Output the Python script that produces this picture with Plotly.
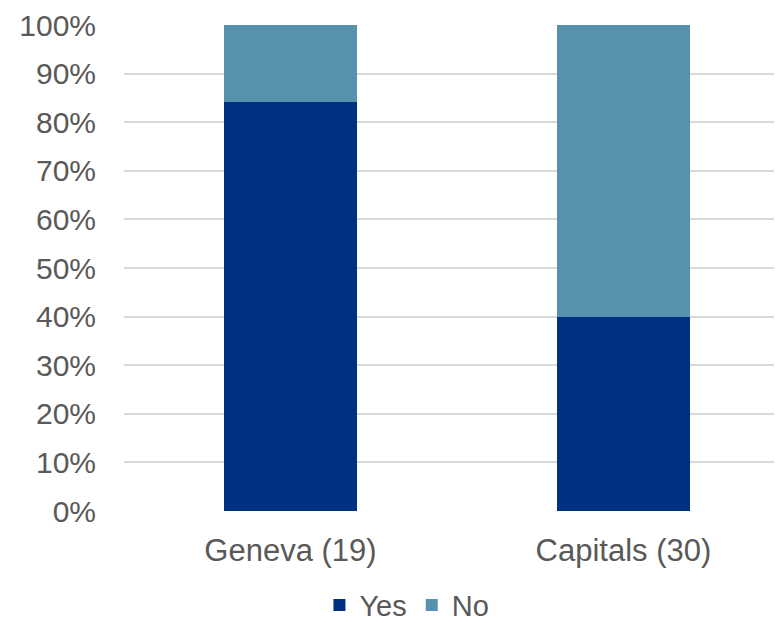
import plotly.graph_objects as go

categories = ["Geneva (19)", "Capitals (30)"]
yes_vals = [84.2, 40.0]
no_vals = [15.8, 60.0]
tick_vals = [0, 10, 20, 30, 40, 50, 60, 70, 80, 90, 100]
tick_text = [f"{v}%" for v in tick_vals]

fig = go.Figure()
fig.add_trace(go.Bar(x=categories, y=yes_vals, name="Yes", marker_color="#003082",
                     marker_line_width=0))
fig.add_trace(go.Bar(x=categories, y=no_vals, name="No", marker_color="#5891AD",
                     marker_line_width=0))

fig.update_layout(
    barmode="stack",
    bargap=0.6,
    width=774, height=615,
    margin=dict(l=116, r=0, t=17, b=112),
    plot_bgcolor="white", paper_bgcolor="white",
    font=dict(family="Liberation Sans, Arial, sans-serif", size=30, color="#595959"),
    showlegend=True,
    legend=dict(orientation="h", x=0.43, xanchor="center",
                yref="container", y=0.029, yanchor="middle",
                font=dict(size=29, color="#595959"), itemwidth=30, traceorder="normal"),
    xaxis=dict(range=[-0.5, 1.476], showgrid=False, zeroline=False, showline=False,
               automargin=False,
               ticks="", ticklabelstandoff=18, tickfont=dict(size=31, color="#595959")),
    yaxis=dict(range=[0, 100], tickvals=tick_vals, ticktext=tick_text,
               automargin=False,
               showgrid=True, gridcolor="#D9D9D9", gridwidth=1.5, zeroline=False,
               showline=False, ticks="", ticklabelstandoff=27,
               tickfont=dict(size=30, color="#595959")),
)

fig.write_html("out.html")
